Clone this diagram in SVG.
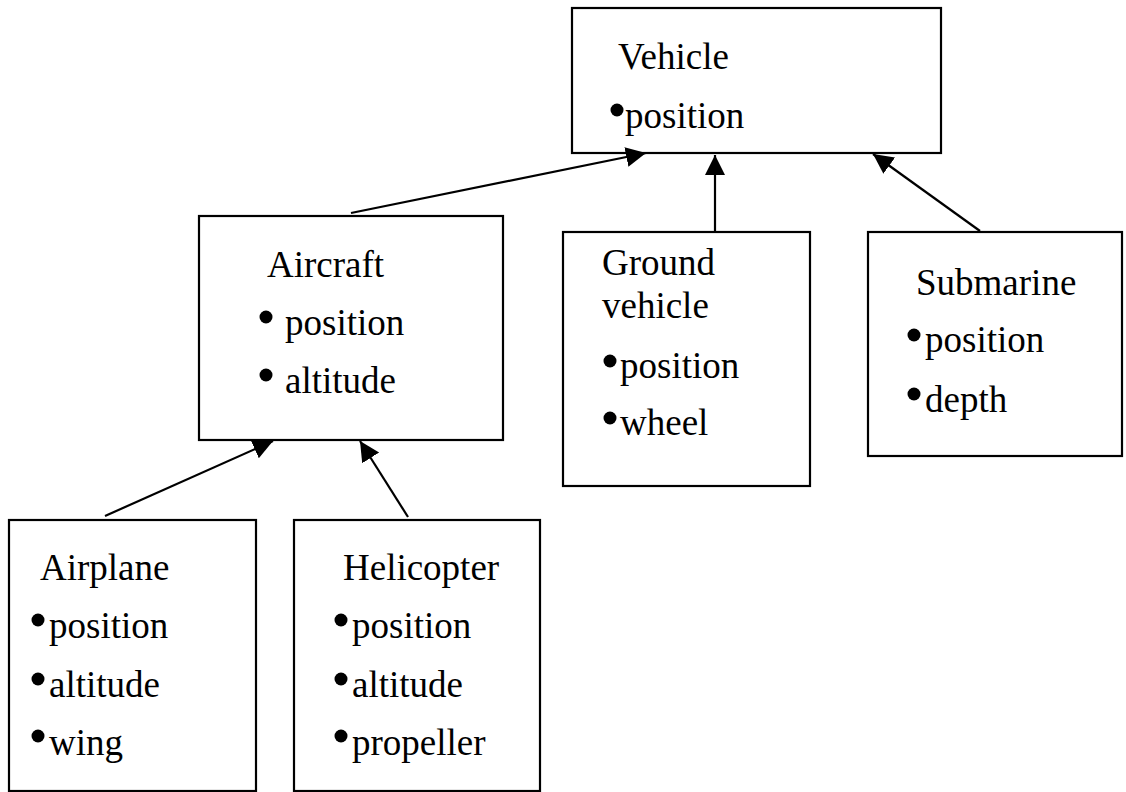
<svg xmlns="http://www.w3.org/2000/svg" width="1126" height="792" viewBox="0 0 1126 792">
  <style>
    .box { fill: #ffffff; stroke: #000000; stroke-width: 2.2; }
    .label { font-family: "Liberation Serif", "Times New Roman", serif; font-size: 37px; fill: #000000; }
    .dot { fill: #000000; }
    .link { stroke: #000000; stroke-width: 2.2; fill: none; marker-end: url(#arrow); }
  </style>
  <defs>
    <marker id="arrow" markerUnits="userSpaceOnUse" markerWidth="22" markerHeight="22" refX="20" refY="10" orient="auto">
      <path d="M0,0 L20,10 L0,20 Z" fill="#000000"/>
    </marker>
  </defs>
  <rect width="1126" height="792" fill="#ffffff"/>

  <g id="vehicle">
    <rect class="box" x="572" y="8" width="369" height="145"/>
    <text class="label" x="618" y="69">Vehicle</text>
    <circle class="dot" cx="617" cy="110" r="6.5"/>
    <text class="label" x="625" y="128">position</text>
  </g>

  <g id="aircraft">
    <rect class="box" x="199" y="216" width="304" height="224"/>
    <text class="label" x="267" y="277">Aircraft</text>
    <circle class="dot" cx="266" cy="317" r="6.5"/>
    <text class="label" x="285" y="335">position</text>
    <circle class="dot" cx="266" cy="375" r="6.5"/>
    <text class="label" x="285" y="393">altitude</text>
  </g>

  <g id="ground-vehicle">
    <rect class="box" x="563" y="232" width="247" height="254"/>
    <text class="label" x="602" y="275">Ground</text>
    <text class="label" x="602" y="318">vehicle</text>
    <circle class="dot" cx="610" cy="361" r="6.5"/>
    <text class="label" x="620" y="378">position</text>
    <circle class="dot" cx="610" cy="418" r="6.5"/>
    <text class="label" x="620" y="435">wheel</text>
  </g>

  <g id="submarine">
    <rect class="box" x="868" y="232" width="254" height="224"/>
    <text class="label" x="916" y="295">Submarine</text>
    <circle class="dot" cx="914" cy="335" r="6.5"/>
    <text class="label" x="925" y="352">position</text>
    <circle class="dot" cx="914" cy="394" r="6.5"/>
    <text class="label" x="925" y="412">depth</text>
  </g>

  <g id="airplane">
    <rect class="box" x="9" y="520" width="247" height="271"/>
    <text class="label" x="40" y="580">Airplane</text>
    <circle class="dot" cx="38" cy="620" r="6.5"/>
    <text class="label" x="49" y="638">position</text>
    <circle class="dot" cx="38" cy="679" r="6.5"/>
    <text class="label" x="49" y="697">altitude</text>
    <circle class="dot" cx="38" cy="736" r="6.5"/>
    <text class="label" x="49" y="755">wing</text>
  </g>

  <g id="helicopter">
    <rect class="box" x="294" y="520" width="246" height="271"/>
    <text class="label" x="343" y="580">Helicopter</text>
    <circle class="dot" cx="341" cy="620" r="6.5"/>
    <text class="label" x="352" y="638">position</text>
    <circle class="dot" cx="341" cy="679" r="6.5"/>
    <text class="label" x="352" y="697">altitude</text>
    <circle class="dot" cx="341" cy="736" r="6.5"/>
    <text class="label" x="352" y="755">propeller</text>
  </g>

  <g id="connectors">
    <line class="link" x1="351" y1="213" x2="646" y2="153"/>
    <line class="link" x1="715" y1="232" x2="715" y2="155"/>
    <line class="link" x1="980" y1="231" x2="873" y2="154"/>
    <line class="link" x1="105" y1="516" x2="273" y2="441"/>
    <line class="link" x1="408" y1="517" x2="360" y2="441"/>
  </g>
</svg>
